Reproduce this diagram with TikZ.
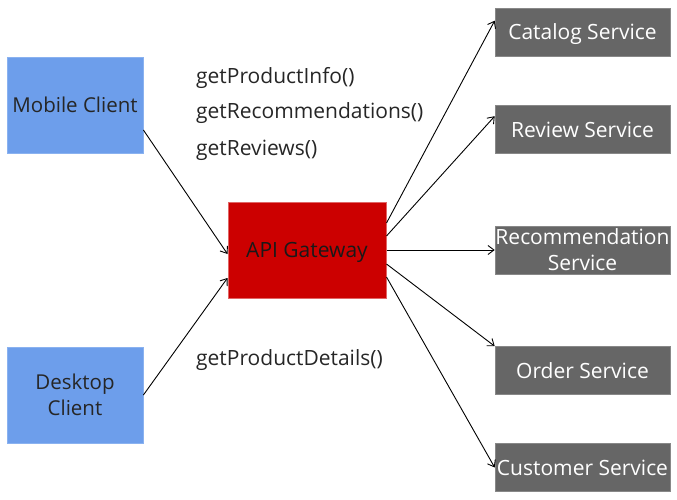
\documentclass[tikz,border=0pt]{standalone}
\usepackage{fontspec}
\setmainfont{Open Sans}
\usetikzlibrary{arrows.meta}
\definecolor{cblue}{HTML}{6D9EEB}
\definecolor{cblueb}{HTML}{8AB2F0}
\definecolor{cred}{HTML}{CC0000}
\definecolor{credb}{HTML}{E06666}
\definecolor{cgray}{HTML}{666666}
\definecolor{cgrayb}{HTML}{888888}
\tikzset{
  client/.style={fill=cblue, draw=cblueb, line width=0.8pt, minimum width=136pt, minimum height=96pt, inner sep=0pt, align=center, font=\fontsize{20.5}{26}\selectfont, text=black!85},
  gateway/.style={fill=cred, draw=credb, line width=1pt, minimum width=158pt, minimum height=96pt, inner sep=0pt, text depth=0pt, font=\fontsize{21}{26}\selectfont, text=black!90},
  service/.style={fill=cgray, draw=cgrayb, line width=0.6pt, minimum width=175pt, minimum height=48pt, inner sep=0pt, align=center, text depth=0pt, font=\fontsize{21}{26}\selectfont, text=white},
  lbl/.style={anchor=west, inner sep=0pt, font=\fontsize{21}{26}\selectfont, text=black!85},
  arr/.style={-{Straight Barb[length=6pt,width=9pt]}, line width=0.9pt, black}
}
\begin{document}
\begin{tikzpicture}[x=1pt,y=-1pt]
\useasboundingbox (0,0) rectangle (677,500);
\node[client] (mob) at (75,105) {Mobile Client};
\node[client] (desk) at (75,395) {Desktop\\Client};
\node[gateway] (gw) at (307,250) {API Gateway};
\node[service] (cat) at (582.5,32) {Catalog Service};
\node[service] (rev) at (582.5,129.5) {Review Service};
\node[service] (rec) at (582.5,250) {Recommendation\\Service};
\node[service] (ord) at (582.5,370.5) {Order Service};
\node[service] (cus) at (582.5,467.5) {Customer Service};
\node[lbl] (l1) at (196,78) {getProductInfo()};
\node[lbl] (l2) at (196,113) {getRecommendations()};
\node[lbl] (l3) at (196,150) {getReviews()};
\node[lbl] (l4) at (196,360) {getProductDetails()};
\draw[arr] ([yshift=-25pt]mob.east) -- ([yshift=-4pt]gw.west);
\draw[arr] (desk.east) -- ([yshift=-28pt]gw.west);
\draw[arr] ([yshift=27pt]gw.east) -- ([yshift=-13pt]cat.north west);
\draw[arr] ([yshift=14pt]gw.east) -- ([yshift=-11pt]rev.north west);
\draw[arr] (gw.east) -- (rec.west);
\draw[arr] ([yshift=-14pt]gw.east) -- (ord.north west);
\draw[arr] ([yshift=-27pt]gw.east) -- (cus.west);
\end{tikzpicture}
\end{document}
